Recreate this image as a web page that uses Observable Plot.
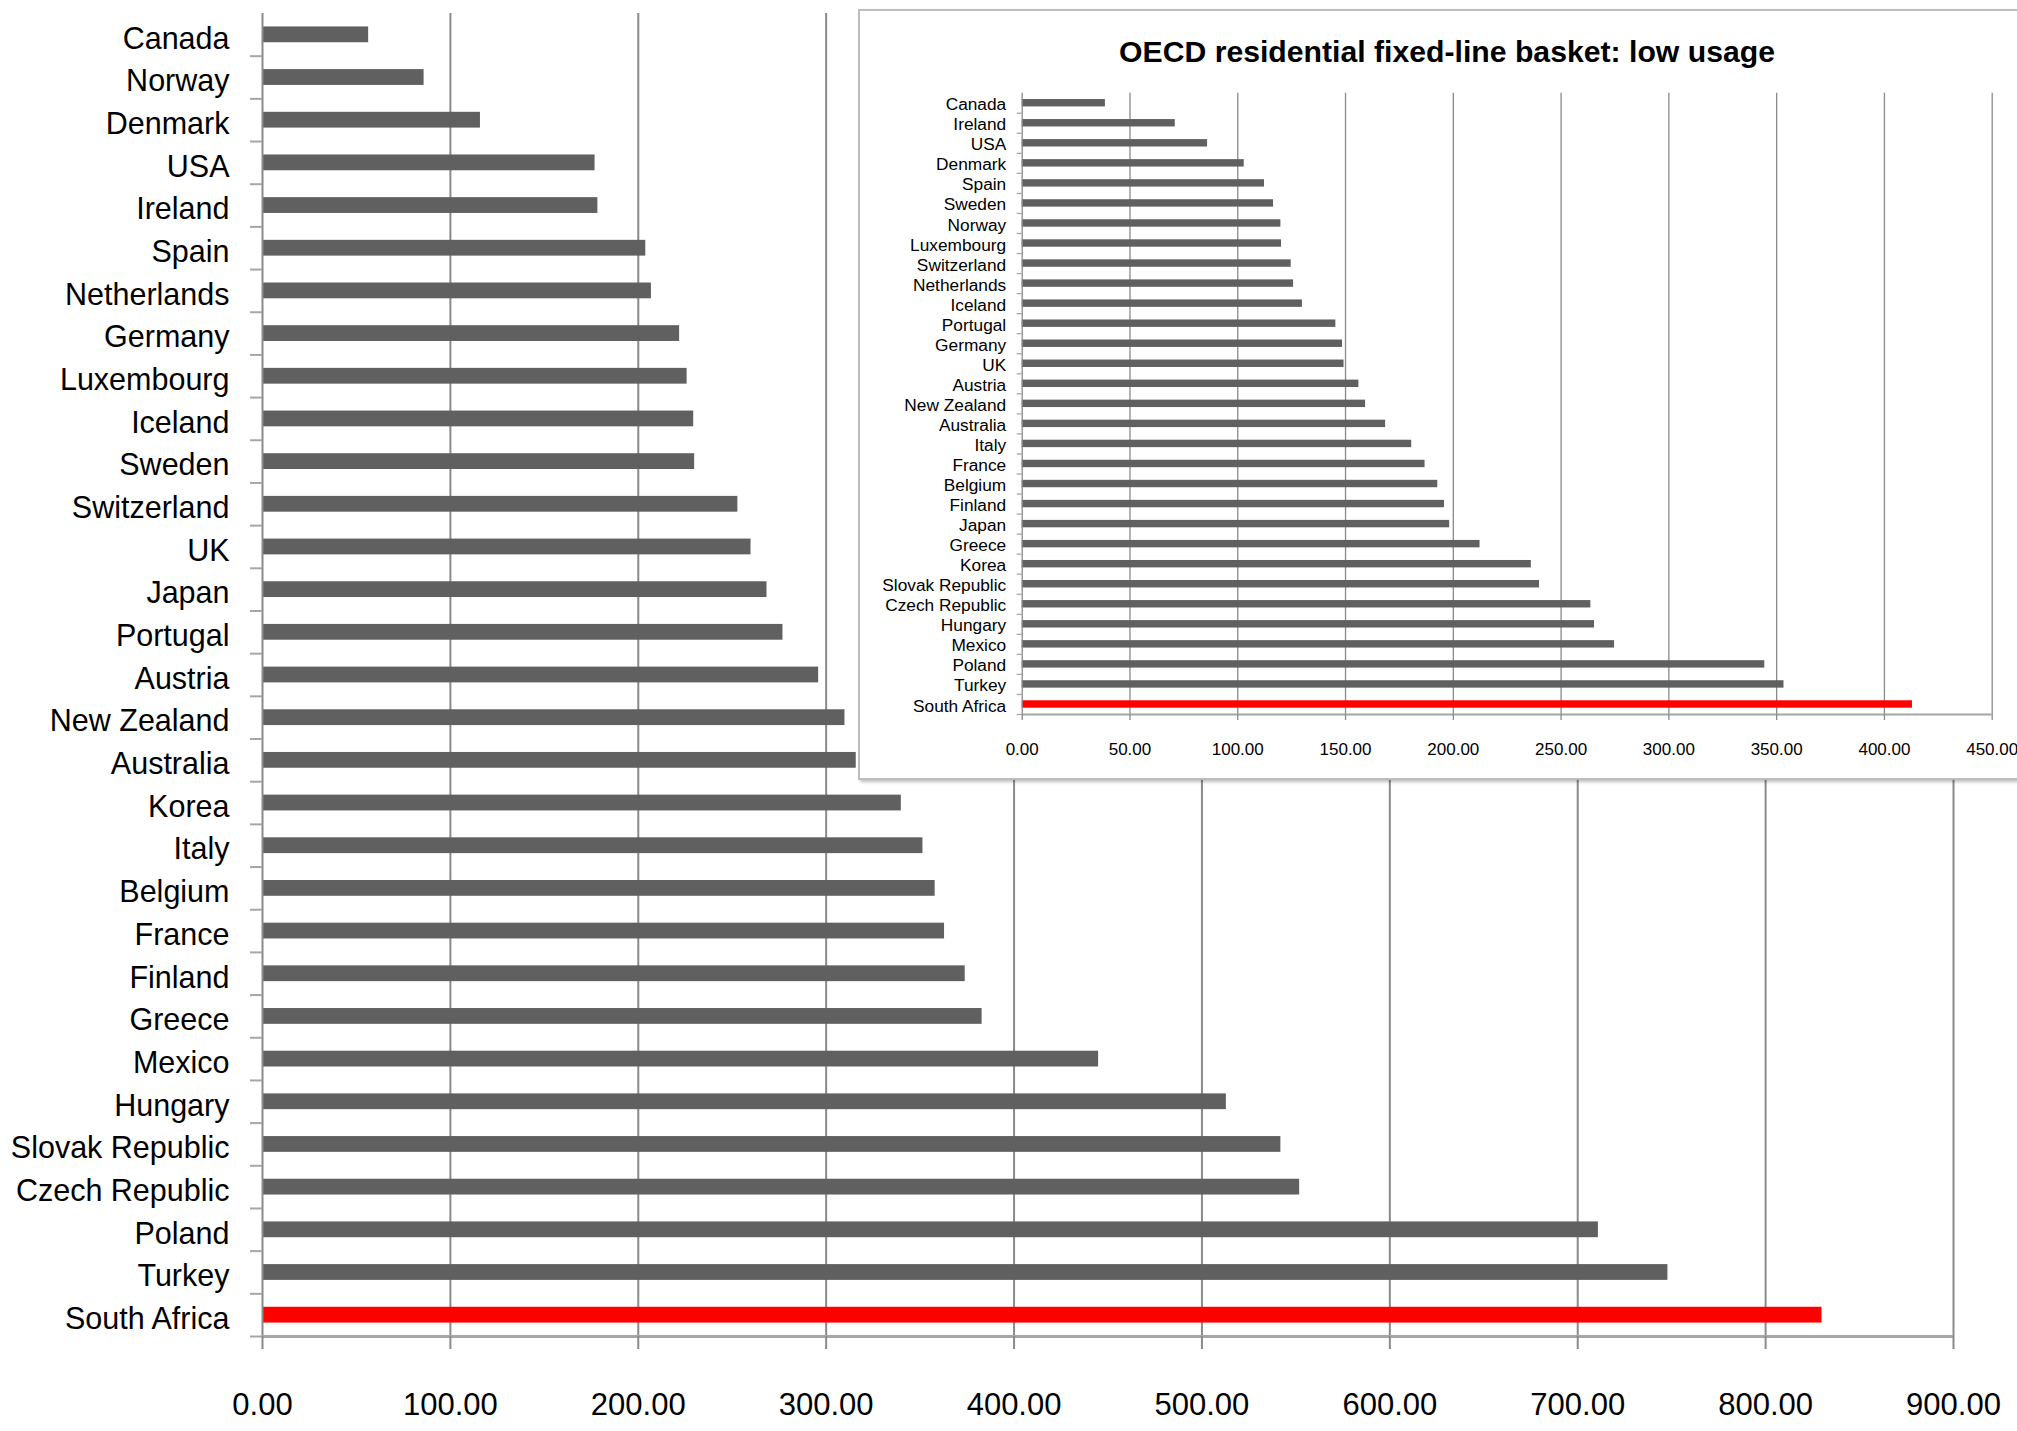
<!DOCTYPE html>
<html><head><meta charset="utf-8">
<script src="https://cdn.jsdelivr.net/npm/d3@7"></script>
<script src="https://cdn.jsdelivr.net/npm/@observablehq/plot@0.6"></script>
<style>
html,body{margin:0;padding:0;background:#fff;overflow:hidden;}
#wrap{position:relative;width:2017px;height:1431px;overflow:hidden;font-family:"Liberation Sans",Arial,sans-serif;}
#main,#insetplot{position:absolute;}
#main{left:0;top:0;}
#box{position:absolute;left:858px;top:9px;width:1190px;height:767px;background:#fff;border:2px solid #bdbdbd;box-shadow:2px 2px 3px rgba(0,0,0,0.25);}
#insetplot{left:859px;top:10px;}
#title{position:absolute;left:859px;top:37px;width:1176px;text-align:center;font-weight:bold;font-size:30.2px;line-height:30px;color:#000;white-space:nowrap;}
</style></head>
<body><div id="wrap"><div id="main"></div><div id="box"></div><div id="insetplot"></div><div id="title"></div></div>
<script>
// Main chart data (top to bottom)
const mainCountries = ["Canada","Norway","Denmark","USA","Ireland","Spain","Netherlands","Germany","Luxembourg","Iceland","Sweden","Switzerland","UK","Japan","Portugal","Austria","New Zealand","Australia","Korea","Italy","Belgium","France","Finland","Greece","Mexico","Hungary","Slovak Republic","Czech Republic","Poland","Turkey","South Africa"];
const mainValues = [56.5,86,116,177,178.5,204,207,222,226,229.5,230,253,260,268.5,277,296,310,316,340,351.5,358,363,374,383,445,513,542,552,711,748,830];
const mainTicks = [0,100,200,300,400,500,600,700,800,900];

// Inset chart data (top to bottom)
const insetTitle = "OECD residential fixed-line basket: low usage";
const insetCountries = ["Canada","Ireland","USA","Denmark","Spain","Sweden","Norway","Luxembourg","Switzerland","Netherlands","Iceland","Portugal","Germany","UK","Austria","New Zealand","Australia","Italy","France","Belgium","Finland","Japan","Greece","Korea","Slovak Republic","Czech Republic","Hungary","Mexico","Poland","Turkey","South Africa"];
const insetValues = [38.6,71,86,103,112.4,116.6,120,120.3,124.8,125.9,130,145.5,148.6,149.3,156.2,159.3,168.6,180.7,186.9,192.8,195.9,198.3,212.4,236.2,240,263.8,265.5,274.8,344.5,353.4,413];
const insetTicks = [0,50,100,150,200,250,300,350,400,450];

const highlight = "South Africa";
const barColor = "#606060";
const hiColor = "#ff0000";
const gridColor = "#8a8a8a";
const axisColor = "#a6a6a6";
const fontFamily = '"Liberation Sans",Arial,sans-serif';

function chart(countries, values, ticks, o) {
  const data = countries.map((c, i) => ({country: c, value: values[i]}));
  const step = (o.height - o.marginTop - o.marginBottom) / countries.length;
  const pxPerUnit = (o.width - o.marginLeft - o.marginRight) / (ticks[ticks.length - 1] - ticks[0]);
  return Plot.plot({
    width: o.width, height: o.height,
    marginLeft: o.marginLeft, marginRight: o.marginRight, marginTop: o.marginTop, marginBottom: o.marginBottom,
    style: {fontFamily, fontSize: o.labelSize + "px", color: "#000", background: "transparent", overflow: "visible"},
    x: {domain: [ticks[0], ticks[ticks.length - 1]]},
    y: {domain: countries, paddingInner: 0.63, paddingOuter: 0.315, round: false},
    marks: [
      Plot.ruleX(ticks.slice(1), {stroke: gridColor, strokeWidth: o.gridWidth}),
      Plot.barX(data.filter(d => d.country !== highlight), {x: "value", y: "country", fill: barColor}),
      Plot.barX(data.filter(d => d.country === highlight), {x: "value", y: "country", fill: hiColor}),
      Plot.ruleX([ticks[0]], {stroke: gridColor, strokeWidth: o.gridWidth}),
      Plot.ruleY(countries, {y: d => d, x1: ticks[0] - o.yTickLen / pxPerUnit, x2: ticks[0], dy: step / 2, stroke: axisColor, strokeWidth: o.gridWidth}),
      Plot.ruleY([countries[countries.length - 1]], {dy: step / 2, stroke: axisColor, strokeWidth: o.axisWidth}),
      Plot.axisX(ticks, {tickSize: o.xTickSize, tickPadding: o.xTickPadding, tickFormat: d => d.toFixed(2), fontSize: o.tickFont, stroke: gridColor, strokeWidth: o.gridWidth, fill: "#000", label: null}),
      Plot.axisY({tickSize: 0, tickPadding: o.yTickPadding, fontSize: o.labelSize, dy: o.labelDy, fill: "#000", label: null})
    ]
  });
}

document.getElementById("main").appendChild(chart(mainCountries, mainValues, mainTicks, {
  width: 2017, height: 1431, marginLeft: 262, marginRight: 64, marginTop: 13, marginBottom: 95,
  labelSize: 30.5, tickFont: 31, xTickSize: 13, xTickPadding: 43, yTickPadding: 33, labelDy: 4, yTickLen: 12, gridWidth: 2, axisWidth: 3
}));
document.getElementById("insetplot").appendChild(chart(insetCountries, insetValues, insetTicks, {
  width: 1158, height: 768, marginLeft: 162.7, marginRight: 25.3, marginTop: 82.7, marginBottom: 64,
  labelSize: 17.3, tickFont: 17, xTickSize: 6, xTickPadding: 22.5, yTickPadding: 16, labelDy: 1.5, yTickLen: 5, gridWidth: 1.3, axisWidth: 2
}));
document.getElementById("title").textContent = insetTitle;
</script></body></html>
